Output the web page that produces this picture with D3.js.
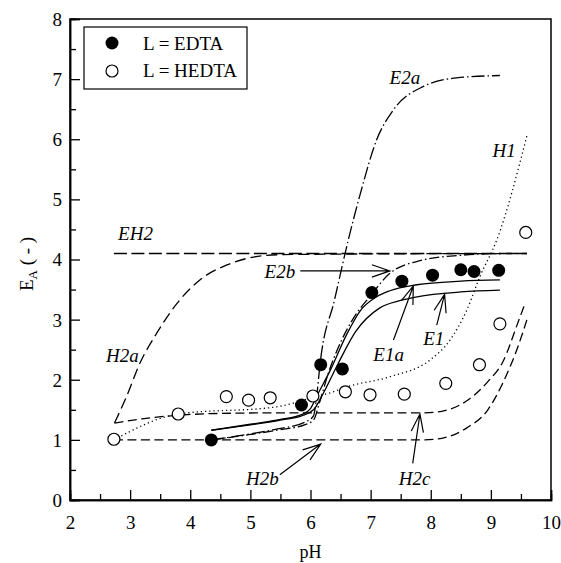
<!DOCTYPE html>
<html>
<head>
<meta charset="utf-8">
<script src="https://cdn.jsdelivr.net/npm/d3@7"></script>
<style>
  body { margin: 0; background: #fff; }
</style>
</head>
<body>
<script>
// measured points
const phEDTA = [4.35, 5.85, 6.17, 6.53, 7.02, 7.52, 8.03, 8.50, 8.72, 9.13]
const eaEDTA = [1.00, 1.58, 2.25, 2.18, 3.45, 3.64, 3.74, 3.83, 3.80, 3.82]
const phHEDTA = [2.73, 3.80, 4.60, 4.97, 5.33, 6.04, 6.58, 6.99, 7.56, 8.25, 8.81, 9.15, 9.58]
const eaHEDTA = [1.01, 1.43, 1.72, 1.66, 1.70, 1.73, 1.80, 1.75, 1.76, 1.94, 2.25, 2.93, 4.45]

// model curves [pH, EA]
const curveEH2 = [[2.73, 4.1], [9.6, 4.1]]
const curveH2a = [[2.74, 1.28], [2.94, 1.72], [3.16, 2.27], [3.44, 2.77], [3.78, 3.27], [4.16, 3.66],
  [4.61, 3.91], [5.05, 4.04], [5.49, 4.08], [6.5, 4.09], [9.6, 4.1]]
const curveH2b = [[2.73, 1.0], [7.9, 1.0], [8.2, 1.03], [8.6, 1.2], [8.95, 1.5], [9.2, 1.95], [9.45, 2.55], [9.6, 3.0]]
const curveH2c = [[2.74, 1.28], [3.2, 1.35], [3.8, 1.41], [4.5, 1.44], [5.5, 1.45], [7.9, 1.45], [8.2, 1.48],
  [8.6, 1.65], [8.95, 1.97], [9.2, 2.3], [9.45, 2.95], [9.55, 3.22]]
const curveH1 = [[2.73, 1.0], [3.8, 1.43], [5.44, 1.55], [5.99, 1.69], [6.38, 1.8], [6.6, 1.88], [7.32, 2.05],
  [7.99, 2.33], [8.32, 2.66], [8.6, 3.16], [8.82, 3.72], [9.1, 4.33], [9.6, 6.06]]
const curveE2a = [[4.35, 1.0], [5.0, 1.1], [5.5, 1.19], [5.9, 1.29], [6.05, 1.4], [6.1, 1.7], [6.16, 2.27],
  [6.4, 3.33], [6.63, 4.33], [6.83, 5.1], [7.1, 5.99], [7.38, 6.49], [7.88, 6.88], [8.43, 7.02], [9.15, 7.06]]
const curveE2b = [[4.35, 1.0], [5.0, 1.09], [5.5, 1.17], [5.9, 1.25], [6.05, 1.33], [6.15, 1.62], [6.3, 2.12],
  [6.5, 2.62], [6.7, 3.0], [7.0, 3.4], [7.32, 3.77], [7.82, 3.98], [8.5, 4.07], [9.15, 4.1]]
const curveE1a = [[4.35, 1.16], [5.0, 1.26], [5.5, 1.34], [5.85, 1.42], [6.0, 1.52], [6.1, 1.72], [6.33, 2.16],
  [6.6, 2.75], [6.83, 3.15], [7.1, 3.38], [7.32, 3.48], [7.77, 3.58], [8.5, 3.64], [9.15, 3.66]]
const curveE1 = [[4.35, 1.16], [5.0, 1.25], [5.5, 1.33], [5.85, 1.4], [6.05, 1.5], [6.2, 1.75], [6.45, 2.25],
  [6.75, 2.8], [7.16, 3.2], [7.5, 3.32], [7.77, 3.38], [8.5, 3.46], [9.15, 3.49]]

const xTicks = [2, 3, 4, 5, 6, 7, 8, 9, 10]
const yTicks = [0, 1, 2, 3, 4, 5, 6, 7, 8]

// curve labels and arrows (data units)
const labelNames = ["E2a", "H1", "EH2", "H2a", "E2b", "E1a", "E1", "H2b", "H2c"]
const labelPos = [[7.57, 6.92], [9.22, 5.7], [3.09, 4.33], [2.87, 2.29], [5.49, 3.69], [7.30, 2.32], [8.05, 2.58], [5.20, 0.25], [7.73, 0.25]]
const arrowFrom = [[5.83, 3.81], [7.38, 2.66], [8.10, 2.91], [5.49, 0.42], [7.70, 0.61]]
const arrowTo = [[7.32, 3.81], [7.71, 3.56], [8.23, 3.42], [6.17, 0.93], [7.82, 1.43]]

const FONT = '"Liberation Serif", "Times New Roman", Times, serif'
const W = 561, H = 563
const svg = d3.select("body").append("svg").attr("width", W).attr("height", H)
  .style("font-family", FONT)

const x = d3.scaleLinear().domain([2, 10]).range([70, 551])
const y = d3.scaleLinear().domain([0, 8]).range([500, 19])

// frame
svg.append("rect")
  .attr("x", x(2)).attr("y", y(8))
  .attr("width", x(10) - x(2)).attr("height", y(0) - y(8))
  .attr("fill", "none").attr("stroke", "#000").attr("stroke-width", 1.5)

// minor ticks
svg.append("g").attr("transform", `translate(0,${y(0)})`)
  .call(d3.axisBottom(x).tickValues(d3.range(2.5, 10, 1)).tickSize(-6).tickFormat(""))
svg.append("g").attr("transform", `translate(${x(2)},0)`)
  .call(d3.axisLeft(y).tickValues(d3.range(0.5, 8, 1)).tickSize(-6).tickFormat(""))
// major ticks
const xAxis = svg.append("g").attr("transform", `translate(0,${y(0)})`)
  .call(d3.axisBottom(x).tickValues(xTicks).tickSize(-10).tickPadding(16).tickFormat(d3.format("d")))
const yAxis = svg.append("g").attr("transform", `translate(${x(2)},0)`)
  .call(d3.axisLeft(y).tickValues(yTicks).tickSize(-10).tickPadding(8).tickFormat(d3.format("d")))

svg.selectAll("g").attr("font-family", null)
svg.selectAll(".domain").attr("stroke", "#000").attr("stroke-width", 1.5)
svg.selectAll(".tick line").attr("stroke", "#000").attr("stroke-width", 1.3)
svg.selectAll(".tick text")
  .style("font-family", FONT).style("font-size", "19px").attr("fill", "#000")
yAxis.selectAll(".tick text").attr("dy", "0.34em")

// axis titles
svg.append("text").attr("x", (x(2) + x(10)) / 2).attr("y", 558)
  .attr("text-anchor", "middle").style("font-family", FONT).style("font-size", "18px").text("pH")

const yl = svg.append("text")
  .attr("transform", `translate(33,264) rotate(-90)`)
  .attr("text-anchor", "middle").style("font-family", FONT).style("font-size", "19px")
yl.append("tspan").text("E")
yl.append("tspan").attr("dy", 4).style("font-size", "13px").text("A")
yl.append("tspan").attr("dy", -4).text(" ( - )")

// model curves
const line = d3.line().x(d => x(d[0])).y(d => y(d[1])).curve(d3.curveMonotoneX)
const curves = [
  [curveEH2, "13,4.5"],
  [curveH2a, "11,5"],
  [curveH2b, "9,4.5"],
  [curveH2c, "9,4.5"],
  [curveH1, "1.2,3"],
  [curveE2a, "13,3,1.5,3"],
  [curveE2b, "10,3,1.5,3"],
  [curveE1a, null],
  [curveE1, null]
]
curves.forEach(([pts, dash]) => {
  svg.append("path").datum(pts).attr("d", line)
    .attr("fill", "none").attr("stroke", "#000").attr("stroke-width", 1.3)
    .attr("stroke-dasharray", dash)
})

// points
svg.selectAll("circle.hedta").data(phHEDTA).enter().append("circle")
  .attr("class", "hedta")
  .attr("cx", d => x(d)).attr("cy", (d, i) => y(eaHEDTA[i])).attr("r", 6)
  .attr("fill", "#fff").attr("stroke", "#000").attr("stroke-width", 1.2)
svg.selectAll("circle.edta").data(phEDTA).enter().append("circle")
  .attr("class", "edta")
  .attr("cx", d => x(d)).attr("cy", (d, i) => y(eaEDTA[i])).attr("r", 6.5)
  .attr("fill", "#000")

// labels
labelNames.forEach((name, i) => {
  svg.append("text").attr("x", x(labelPos[i][0])).attr("y", y(labelPos[i][1]))
    .attr("text-anchor", "middle").style("font-family", FONT)
    .style("font-size", "19px").style("font-style", "italic")
    .text(name)
})

// arrows with open V heads
arrowFrom.forEach((a, i) => {
  const x0 = x(a[0]), y0 = y(a[1]), x1 = x(arrowTo[i][0]), y1 = y(arrowTo[i][1])
  const ang = Math.atan2(y1 - y0, x1 - x0)
  const len = 19, spread = 0.33
  const bx1 = x1 - len * Math.cos(ang - spread), by1 = y1 - len * Math.sin(ang - spread)
  const bx2 = x1 - len * Math.cos(ang + spread), by2 = y1 - len * Math.sin(ang + spread)
  svg.append("path")
    .attr("d", `M${x0},${y0}L${x1},${y1}M${bx1},${by1}L${x1},${y1}L${bx2},${by2}`)
    .attr("fill", "none").attr("stroke", "#000").attr("stroke-width", 1.2)
})

// legend
const lg = svg.append("g")
lg.append("rect").attr("x", 84).attr("y", 27).attr("width", 163).attr("height", 62)
  .attr("fill", "#fff").attr("stroke", "#000").attr("stroke-width", 1.2)
lg.append("circle").attr("cx", 112).attr("cy", 43).attr("r", 6.5).attr("fill", "#000")
lg.append("circle").attr("cx", 112).attr("cy", 71).attr("r", 6)
  .attr("fill", "#fff").attr("stroke", "#000").attr("stroke-width", 1.2)
lg.append("text").attr("x", 143).attr("y", 49.5).style("font-family", FONT).style("font-size", "19px").text("L = EDTA")
lg.append("text").attr("x", 143).attr("y", 77).style("font-family", FONT).style("font-size", "19px").text("L = HEDTA")
</script>
</body>
</html>
